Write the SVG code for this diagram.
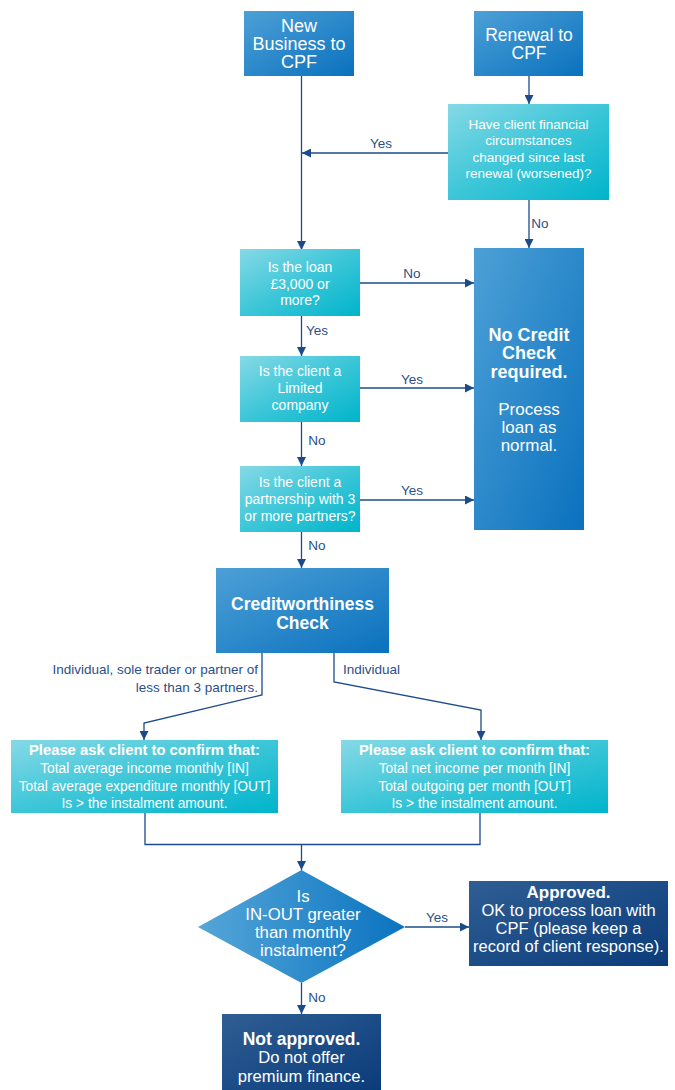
<svg xmlns="http://www.w3.org/2000/svg" width="675" height="1090" viewBox="0 0 675 1090">
<defs>
<linearGradient id="gBlue" x1="0" y1="0" x2="1" y2="1"><stop offset="0" stop-color="#4da0d6"/><stop offset="1" stop-color="#0a71be"/></linearGradient>
<linearGradient id="gCyan" x1="0" y1="0" x2="1" y2="1"><stop offset="0" stop-color="#86d9e6"/><stop offset="0.5" stop-color="#3cc6d8"/><stop offset="1" stop-color="#00b4cb"/></linearGradient>
<linearGradient id="gDark" x1="0" y1="0" x2="1" y2="1"><stop offset="0" stop-color="#2f5e94"/><stop offset="1" stop-color="#0b3c7a"/></linearGradient>
<linearGradient id="gDia" x1="0" y1="0" x2="1" y2="0"><stop offset="0" stop-color="#55a6d8"/><stop offset="1" stop-color="#0a73c0"/></linearGradient>
<marker id="arr" viewBox="0 0 10 10" refX="10" refY="5" markerWidth="9" markerHeight="9" markerUnits="userSpaceOnUse" orient="auto"><path d="M0,0 L10,5 L0,10 z" fill="#1b4b8a"/></marker>
</defs>
<style>
.ln{fill:none;stroke:#1b4b8a;stroke-width:1.3}
.t{font-family:"Liberation Sans",Arial,sans-serif;fill:#ffffff;text-anchor:middle}
.b{font-weight:bold}
.lb{font-family:"Liberation Sans",Arial,sans-serif;fill:#2a4f8a;font-size:13.5px}
</style>
<rect width="675" height="1090" fill="#ffffff"/>

<g id="connectors">
<path class="ln" d="M301.5,76 V250" marker-end="url(#arr)"/>
<path class="ln" d="M529,76 V104" marker-end="url(#arr)"/>
<path class="ln" d="M448,153 H302" marker-end="url(#arr)"/>
<path class="ln" d="M529,200 V248" marker-end="url(#arr)"/>
<path class="ln" d="M360,283 H474" marker-end="url(#arr)"/>
<path class="ln" d="M301.5,316 V356" marker-end="url(#arr)"/>
<path class="ln" d="M360,388 H474" marker-end="url(#arr)"/>
<path class="ln" d="M301.5,422 V466" marker-end="url(#arr)"/>
<path class="ln" d="M360,500 H474" marker-end="url(#arr)"/>
<path class="ln" d="M301.5,532 V568" marker-end="url(#arr)"/>
<path class="ln" d="M262,653 V695 L144,723 V740" marker-end="url(#arr)"/>
<path class="ln" d="M334,653 V682 L481,710 V740" marker-end="url(#arr)"/>
<path class="ln" d="M145,813 V844.5 H480 V813"/>
<path class="ln" d="M301.5,844.5 V870" marker-end="url(#arr)"/>
<path class="ln" d="M405,927 H469" marker-end="url(#arr)"/>
<path class="ln" d="M301.5,983 V1014" marker-end="url(#arr)"/>
<text class="lb" x="381" y="148" text-anchor="middle">Yes</text>
<text class="lb" x="540" y="228" text-anchor="middle">No</text>
<text class="lb" x="412" y="278" text-anchor="middle">No</text>
<text class="lb" x="317" y="335" text-anchor="middle">Yes</text>
<text class="lb" x="412" y="384" text-anchor="middle">Yes</text>
<text class="lb" x="317" y="445" text-anchor="middle">No</text>
<text class="lb" x="412" y="495" text-anchor="middle">Yes</text>
<text class="lb" x="317" y="550" text-anchor="middle">No</text>
<text class="lb" x="258" y="674" text-anchor="end">Individual, sole trader or partner of</text>
<text class="lb" x="258" y="692" text-anchor="end">less than 3 partners.</text>
<text class="lb" x="343" y="674">Individual</text>
<text class="lb" x="437" y="922" text-anchor="middle">Yes</text>
<text class="lb" x="317" y="1002" text-anchor="middle">No</text>
</g>

<g id="new-business">
<rect x="244" y="11" width="110" height="65" fill="url(#gBlue)"/>
<text class="t" font-size="18"><tspan x="299" y="32">New</tspan><tspan x="299" y="50">Business to</tspan><tspan x="299" y="68">CPF</tspan></text>
</g>
<g id="renewal">
<rect x="474" y="11" width="109" height="65" fill="url(#gBlue)"/>
<text class="t" font-size="17.5"><tspan x="529" y="41">Renewal to</tspan><tspan x="529" y="59">CPF</tspan></text>
</g>
<g id="q-changed">
<rect x="448" y="104" width="161" height="96" fill="url(#gCyan)"/>
<text class="t" font-size="13.5"><tspan x="528.5" y="129">Have client financial</tspan><tspan x="528.5" y="145">circumstances</tspan><tspan x="528.5" y="162">changed since last</tspan><tspan x="528.5" y="178">renewal (worsened)?</tspan></text>
</g>
<g id="q-loan">
<rect x="240" y="249" width="120" height="67" fill="url(#gCyan)"/>
<text class="t" font-size="14"><tspan x="300" y="272">Is the loan</tspan><tspan x="300" y="289">£3,000 or</tspan><tspan x="300" y="305">more?</tspan></text>
</g>
<g id="q-limited">
<rect x="240" y="356" width="120" height="66" fill="url(#gCyan)"/>
<text class="t" font-size="14"><tspan x="300" y="376">Is the client a</tspan><tspan x="300" y="393">Limited</tspan><tspan x="300" y="410">company</tspan></text>
</g>
<g id="q-partnership">
<rect x="240" y="466" width="120" height="66" fill="url(#gCyan)"/>
<text class="t" font-size="14"><tspan x="300" y="487">Is the client a</tspan><tspan x="300" y="504">partnership with 3</tspan><tspan x="300" y="521">or more partners?</tspan></text>
</g>
<g id="no-credit">
<rect x="474" y="248" width="110" height="282" fill="url(#gBlue)"/>
<text class="t b" font-size="18"><tspan x="529" y="341">No Credit</tspan><tspan x="529" y="359">Check</tspan><tspan x="529" y="378">required.</tspan></text>
<text class="t" font-size="17"><tspan x="529" y="415">Process</tspan><tspan x="529" y="433">loan as</tspan><tspan x="529" y="451">normal.</tspan></text>
</g>
<g id="creditworthiness">
<rect x="216" y="568" width="173" height="85" fill="url(#gBlue)"/>
<text class="t b" font-size="17.5"><tspan x="302.5" y="610">Creditworthiness</tspan><tspan x="302.5" y="628.5">Check</tspan></text>
</g>
<g id="confirm-left">
<rect x="11" y="740" width="267" height="73" fill="url(#gCyan)"/>
<text class="t" font-size="13.8"><tspan class="b" font-size="14.8" x="144.5" y="755">Please ask client to confirm that:</tspan><tspan x="144.5" y="773">Total average income monthly [IN]</tspan><tspan x="144.5" y="791">Total average expenditure monthly [OUT]</tspan><tspan x="144.5" y="808">Is &gt; the instalment amount.</tspan></text>
</g>
<g id="confirm-right">
<rect x="341" y="740" width="267" height="73" fill="url(#gCyan)"/>
<text class="t" font-size="13.8"><tspan class="b" font-size="14.8" x="474.5" y="755">Please ask client to confirm that:</tspan><tspan x="474.5" y="773">Total net income per month [IN]</tspan><tspan x="474.5" y="791">Total outgoing per month [OUT]</tspan><tspan x="474.5" y="808">Is &gt; the instalment amount.</tspan></text>
</g>
<g id="decision">
<polygon points="301.5,870 405,927 301.5,983 198,927" fill="url(#gDia)"/>
<text class="t" font-size="16.8"><tspan x="303" y="902">Is</tspan><tspan x="303" y="920">IN-OUT greater</tspan><tspan x="303" y="938">than monthly</tspan><tspan x="303" y="956">instalment?</tspan></text>
</g>
<g id="approved">
<rect x="469" y="881" width="199" height="85" fill="url(#gDark)"/>
<text class="t" font-size="16.5"><tspan class="b" font-size="17" x="568.5" y="898">Approved.</tspan><tspan x="568.5" y="916">OK to process loan with</tspan><tspan x="568.5" y="934">CPF (please keep a</tspan><tspan x="568.5" y="952">record of client response).</tspan></text>
</g>
<g id="not-approved">
<rect x="222" y="1014" width="159" height="76" fill="url(#gDark)"/>
<text class="t" font-size="16.6"><tspan class="b" font-size="17.5" x="301.5" y="1045">Not approved.</tspan><tspan x="301.5" y="1063">Do not offer</tspan><tspan x="301.5" y="1082">premium finance.</tspan></text>
</g>
</svg>
